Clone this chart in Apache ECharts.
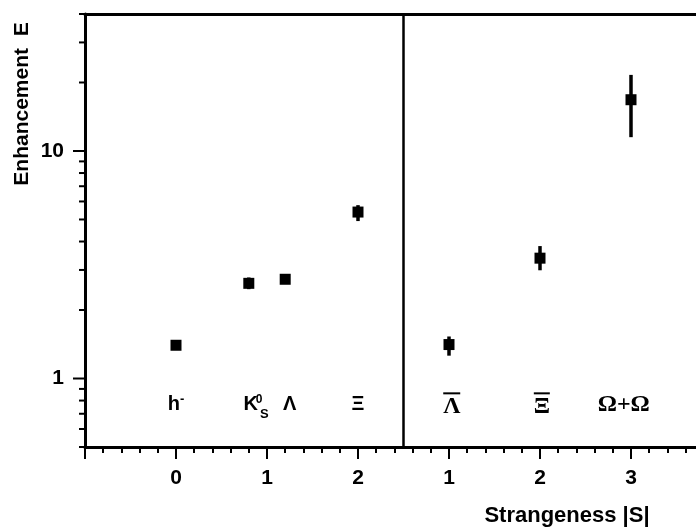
<!DOCTYPE html>
<html>
<head>
<meta charset="utf-8">
<script src="https://cdn.jsdelivr.net/npm/echarts@6/dist/echarts.min.js"></script>
<style>html,body{margin:0;padding:0;background:#fff}#c{width:696px;height:527px}</style>
</head>
<body>
<div id="c"></div>
<script>
// ---- data ----
const particles     = ['h-', 'K0S', 'Λ', 'Ξ', 'anti-Λ', 'anti-Ξ', 'Ω+Ω'];
const strangeness   = [0, 0.8, 1.2, 2, 3, 4, 5];      // axis position (right block: |S| = pos - 2)
const enhancement   = [1.40, 2.62, 2.73, 5.39, 1.41, 3.38, 16.8];
const errLow        = [1.40, 2.47, 2.73, 4.92, 1.26, 2.99, 11.5];
const errHigh       = [1.40, 2.78, 2.73, 5.78, 1.53, 3.82, 21.6];
const labelPos      = [0, 0.88, 1.25, 2, 3.03, 4.02, 4.92];
const labelLevel    = 0.77;
const xTickLabels   = { '0': '0', '1': '1', '2': '2', '3': '1', '4': '2', '5': '3' };
const yMajorTicks   = [1, 10];
const yMinorTicks   = [0.5, 0.6, 0.7, 0.8, 0.9, 2, 3, 4, 5, 6, 7, 8, 9, 20, 30, 40];
const separatorAt   = 2.5;
const xMin = -1, xMax = 6, yMin = 0.5, yMax = 40;

const richLabel = [
  '{b|h}{sup|-}',
  '{b|K}{sup0|0}{sub|S}',
  '{b|Λ}',
  '{b|Ξ}',
  '{barA| }\n{s|Λ}',
  '{barX| }\n{s|Ξ}',
  '{s|Ω+Ω}'
];

const chart = echarts.init(document.getElementById('c'), null, { renderer: 'canvas' });
const FONT = 'Liberation Sans';

function tickItem(len) {
  return function (params, api) {
    const p = api.coord([xMin, api.value(0)]);
    return {
      type: 'line',
      shape: { x1: p[0] - len, y1: p[1], x2: p[0], y2: p[1] },
      style: { stroke: '#000', lineWidth: 2 }
    };
  };
}

chart.setOption({
  animation: false,
  backgroundColor: '#fff',
  grid: { left: 85, top: 14, bottom: 80, right: -26, containLabel: false, outerBoundsMode: 'none' },
  xAxis: [{
    type: 'value', min: xMin, max: xMax, interval: 1,
    position: 'bottom',
    axisLine: { show: true, onZero: false, lineStyle: { color: '#000', width: 3 } },
    axisTick: { show: true, length: 12, lineStyle: { color: '#000', width: 2 } },
    minorTick: { show: true, splitNumber: 5, length: 6, lineStyle: { color: '#000', width: 2 } },
    splitLine: { show: false },
    axisLabel: {
      margin: 21, color: '#000', fontFamily: FONT, fontWeight: 'bold', fontSize: 21,
      formatter: v => (xTickLabels[String(v)] !== undefined ? xTickLabels[String(v)] : '')
    }
  }, {
    type: 'value', min: xMin, max: xMax, position: 'top',
    axisLine: { show: true, onZero: false, lineStyle: { color: '#000', width: 3 } },
    axisTick: { show: false }, axisLabel: { show: false }, splitLine: { show: false }
  }],
  yAxis: [{
    type: 'log', logBase: 10, min: yMin, max: yMax,
    axisLine: { show: true, onZero: false, lineStyle: { color: '#000', width: 3 } },
    axisTick: { show: false },
    splitLine: { show: false },
    axisLabel: {
      margin: 21, color: '#000', fontFamily: FONT, fontWeight: 'bold', fontSize: 21,
      formatter: v => (yMajorTicks.indexOf(Math.round(v * 1000) / 1000) >= 0 ? String(Math.round(v)) : '')
    }
  }],
  graphic: [
    {
      type: 'text', x: 22, y: 104, rotation: Math.PI / 2,
      style: { text: 'Enhancement  E', font: 'bold 21px "Liberation Sans"', fill: '#000',
               align: 'center', verticalAlign: 'middle', textAlign: 'center', textVerticalAlign: 'middle' }
    },
    {
      type: 'text', x: 567, y: 516,
      style: { text: 'Strangeness |S|', font: 'bold 22px "Liberation Sans"', fill: '#000',
               align: 'center', verticalAlign: 'middle', textAlign: 'center', textVerticalAlign: 'middle' }
    }
  ],
  series: [
    {
      type: 'custom', name: 'yMajor', silent: true, clip: false,
      data: yMajorTicks.map(v => [v]), encode: { y: 0 },
      renderItem: tickItem(12)
    },
    {
      type: 'custom', name: 'yMinor', silent: true, clip: false,
      data: yMinorTicks.map(v => [v]), encode: { y: 0 },
      renderItem: tickItem(6)
    },
    {
      type: 'custom', name: 'errors', silent: true, clip: false,
      data: strangeness.map((x, i) => [x, errLow[i], errHigh[i]]),
      encode: { x: 0, y: [1, 2] },
      renderItem: function (params, api) {
        const a = api.coord([api.value(0), api.value(1)]);
        const b = api.coord([api.value(0), api.value(2)]);
        return { type: 'line', shape: { x1: a[0], y1: a[1], x2: b[0], y2: b[1] },
                 style: { stroke: '#000', lineWidth: 3.5 } };
      }
    },
    {
      type: 'scatter', name: 'E', symbol: 'rect', symbolSize: 11,
      itemStyle: { color: '#000', opacity: 1 },
      data: strangeness.map((x, i) => [x, enhancement[i]]),
      markLine: {
        silent: true, symbol: ['none', 'none'], label: { show: false },
        lineStyle: { color: '#000', width: 2.5, type: 'solid', opacity: 1 },
        data: [{ xAxis: separatorAt }]
      }
    },
    {
      type: 'scatter', name: 'labels', symbolSize: 1, silent: true,
      itemStyle: { color: 'rgba(0,0,0,0)', opacity: 1 },
      data: labelPos.map((x, i) => ({ value: [x, labelLevel], name: particles[i] })),
      label: {
        show: true, position: 'inside', color: '#000', opacity: 1, align: 'center',
        formatter: p => richLabel[p.dataIndex],
        rich: {
          b: { fontFamily: FONT, fontWeight: 'bold', fontSize: 20, lineHeight: 22, color: '#000' },
          sup: { fontFamily: FONT, fontWeight: 'bold', fontSize: 13, verticalAlign: 'top', color: '#000' },
          sup0: { fontFamily: FONT, fontWeight: 'bold', fontSize: 12, width: 0, verticalAlign: 'top', color: '#000', padding: [0, 0, 0, 1] },
          sub: { fontFamily: FONT, fontWeight: 'bold', fontSize: 13, verticalAlign: 'bottom', color: '#000', padding: [0, 0, -6, 1] },
          s: { fontFamily: 'Liberation Serif', fontWeight: 'bold', fontSize: 24, lineHeight: 22, color: '#000', align: 'center' },
          barA: { width: 17, height: 2, lineHeight: 5, fontSize: 2, backgroundColor: '#000', align: 'center' },
          barX: { width: 16, height: 2, lineHeight: 5, fontSize: 2, backgroundColor: '#000', align: 'center' }
        }
      }
    }
  ]
});
</script>
</body>
</html>
